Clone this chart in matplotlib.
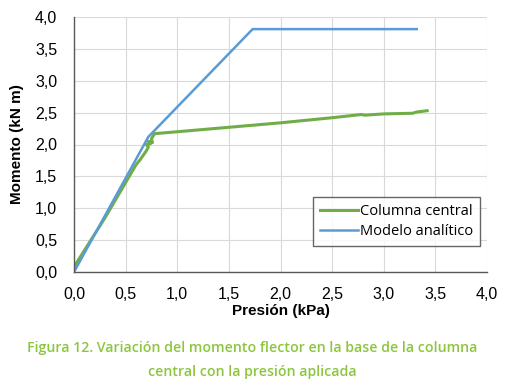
import matplotlib
matplotlib.use("Agg")
import matplotlib.pyplot as plt

# Data
green_x = [0.0, 0.30, 0.60, 0.64, 0.67, 0.70, 0.72, 0.70, 0.74, 0.72, 0.76, 0.75, 0.78,
           1.0, 1.5, 2.0, 2.5, 2.78, 2.82, 3.0, 3.28, 3.32, 3.42]
green_y = [0.08, 0.85, 1.68, 1.76, 1.83, 1.90, 1.96, 2.00, 2.01, 2.05, 2.03, 2.09, 2.17,
           2.20, 2.27, 2.34, 2.42, 2.47, 2.46, 2.48, 2.49, 2.51, 2.53]
blue_x = [0.0, 0.72, 1.73, 3.32]
blue_y = [0.0, 2.12, 3.81, 3.81]
xticks = [0.0, 0.5, 1.0, 1.5, 2.0, 2.5, 3.0, 3.5, 4.0]
yticks = [0.0, 0.5, 1.0, 1.5, 2.0, 2.5, 3.0, 3.5, 4.0]

fig = plt.figure(figsize=(5.05, 3.88), dpi=100)
ax = fig.add_axes([74/505, 1-272/388, (487-74)/505, (272-17)/388])

green = "#70AD47"
blue = "#5B9BD5"
ax.plot(green_x, green_y, color=green, lw=2.2, label="Columna central")
ax.plot(blue_x, blue_y, color=blue, lw=1.8, label="Modelo analítico")

ax.set_xlim(0, 4)
ax.set_ylim(0, 4)
ax.set_xticks(xticks)
ax.set_yticks(yticks)
fmt = lambda v: f"{v:.1f}".replace(".", ",")
ax.set_xticklabels([fmt(v) for v in xticks], fontsize=11.5, family="Liberation Sans")
ax.set_yticklabels([fmt(v) for v in yticks], fontsize=11.5, family="Liberation Sans")
ax.tick_params(axis="y", length=0, pad=12)
ax.tick_params(axis="x", length=0, pad=11)
ax.grid(True, color="#D9D9D9", lw=0.8)
ax.set_axisbelow(True)
for s in ["top", "right"]:
    ax.spines[s].set_visible(False)
for s in ["left", "bottom"]:
    ax.spines[s].set_color("#595959")
    ax.spines[s].set_linewidth(1.0)

ax.set_xlabel("Presión (kPa)", fontsize=11, fontweight="bold", family="Liberation Sans", labelpad=1)
ax.set_ylabel("Momento (kN m)", fontsize=11, fontweight="bold", family="Liberation Sans", labelpad=8)

leg = ax.legend(loc="lower right", bbox_to_anchor=(1.0, 0.075), frameon=True, fancybox=False,
                edgecolor="#404040", handlelength=2.6, handletextpad=0.15,
                borderpad=0.45, labelspacing=0.35, prop={"family": "Open Sans", "size": 10.5})
leg.get_frame().set_linewidth(1.0)

cap_color = "#8CC63F"
fig.text(0.5, 1-348/388, "Figura 12. Variación del momento flector en la base de la columna",
         ha="center", va="center", color=cap_color, fontsize=10.2, fontweight="semibold", family="Open Sans")
fig.text(0.5, 1-372/388, "central con la presión aplicada",
         ha="center", va="center", color=cap_color, fontsize=10.2, fontweight="semibold", family="Open Sans")

fig.savefig("out.png", dpi=100)
